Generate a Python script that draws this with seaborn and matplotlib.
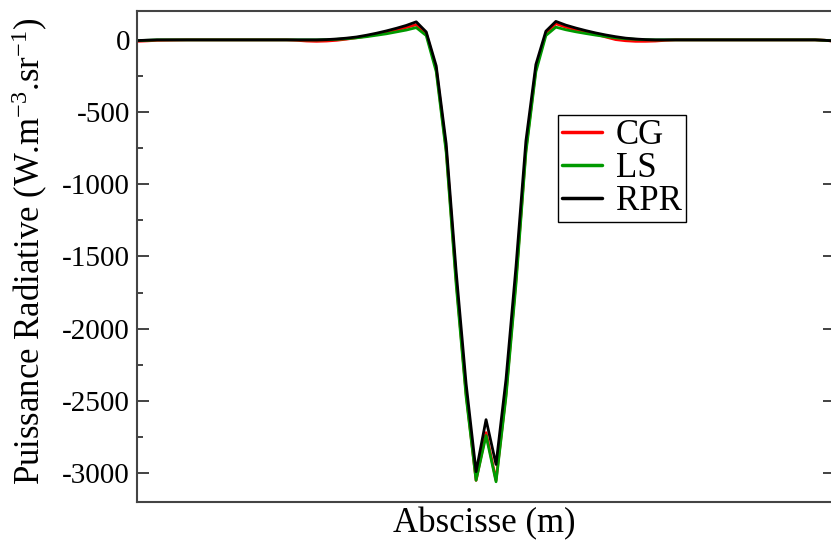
import numpy as np
import pandas as pd
import matplotlib
matplotlib.use('Agg')
import matplotlib.pyplot as plt
from matplotlib.ticker import MultipleLocator
import seaborn as sns

# abscissa (arbitrary units, no tick labels on the original), centre of the W at 50
abscisse = [0.0, 1.43, 2.86, 7.14, 14.29, 21.43, 22.86, 24.29, 25.71, 27.14,
            28.57, 30.0, 31.43, 32.86, 34.29, 35.71, 37.14, 38.57, 40.0, 41.43,
            42.86, 44.29, 45.71, 47.14, 48.57, 50.0,
            51.43, 52.86, 54.29, 55.71, 57.14, 58.57, 60.0, 61.43, 62.86, 64.29,
            65.71, 67.14, 68.57, 70.0, 71.43, 72.86, 74.29, 75.71, 77.14, 78.57,
            85.71, 92.86, 97.14, 98.57, 100.0]

cg = [-10, -7, -3, 0, 0, 0, -3, -8, -10, -8,
      -3, 5, 15, 26, 38, 52, 67, 86, 105, 45,
      -200, -760, -1660, -2450, -3050, -2720,
      -3050, -2450, -1660, -760, -200, 45, 112, 88, 70, 54,
      40, 20, 2, -6, -10, -10, -8, -3, 0, 0,
      0, 0, 0, -3, -10]

ls = [-5, -3, 0, 0, 0, 0, 0, 0, 0, 1,
      4, 8, 14, 22, 32, 42, 55, 68, 85, 30,
      -220, -780, -1690, -2470, -3050, -2740,
      -3060, -2470, -1690, -780, -220, 30, 88, 70, 56, 44,
      33, 23, 14, 8, 4, 1, 0, 0, 0, 0,
      0, 0, 0, -3, -8]

rpr = [-5, -2, 0, 0, 0, 0, 0, 0, 0, 2,
       6, 12, 20, 32, 46, 62, 80, 100, 125, 55,
       -180, -720, -1600, -2380, -2990, -2630,
       -2940, -2350, -1570, -700, -170, 60, 128, 102, 82, 64,
       48, 34, 22, 12, 6, 2, 0, 0, 0, 0,
       0, 0, 0, -3, -8]

methodes = ['CG', 'LS', 'RPR']
couleurs = {'CG': '#ff0000', 'LS': '#009a00', 'RPR': '#000000'}

n = len(abscisse)
df = pd.DataFrame({
    'x': abscisse * 3,
    'y': cg + ls + rpr,
    'methode': ['CG'] * n + ['LS'] * n + ['RPR'] * n,
})

sns.set_theme(style='white')
plt.rcParams['font.family'] = ['Liberation Serif', 'DejaVu Serif']
plt.rcParams['mathtext.fontset'] = 'custom'
plt.rcParams['mathtext.rm'] = 'Liberation Serif'
plt.rcParams['mathtext.it'] = 'Liberation Serif:italic'
plt.rcParams['axes.unicode_minus'] = False
plt.rcParams['text.color'] = 'black'
plt.rcParams['axes.labelcolor'] = 'black'
plt.rcParams['ytick.color'] = 'black'
plt.rcParams['xtick.color'] = 'black'

fig = plt.figure(figsize=(8.31, 5.47), dpi=100)
ax = fig.add_axes([0.1649, 0.0823, 0.8400, 0.8976])

sns.lineplot(data=df, x='x', y='y', hue='methode', hue_order=methodes,
             palette=couleurs, linewidth=2, estimator=None, sort=False, ax=ax)

ax.set_xlim(0, 100)
ax.set_ylim(-3200, 200)
ax.set_xticks([])
ax.yaxis.set_major_locator(MultipleLocator(500))
ax.yaxis.set_minor_locator(MultipleLocator(250))
ax.tick_params(axis='y', which='major', direction='in', length=8.5, width=1.2,
               color='#222222', labelcolor='black', labelsize=21,
               left=True, right=True, pad=5)
ax.tick_params(axis='y', which='minor', direction='in', length=4.3, width=1.2,
               color='#222222', left=True, right=False)

for s in ax.spines.values():
    s.set_color('#444444')
    s.set_linewidth(1.5)

ax.set_xlabel('Abscisse (m)', fontsize=25, color='black')
ax.set_ylabel('Puissance Radiative (W.m$^{-3}$.sr$^{-1}$)', fontsize=25,
              color='black')
ax.xaxis.set_label_coords(0.497, -0.010)
ax.yaxis.set_label_coords(-0.125, 0.510)

sns.move_legend(ax, 'upper left', bbox_to_anchor=(0.603, 0.788), title=None,
                frameon=True, fancybox=False, edgecolor='black', framealpha=1,
                fontsize=25, handlelength=1.15, handletextpad=0.4,
                borderpad=0.12, labelspacing=0.0, borderaxespad=0)
leg = ax.get_legend()
leg.get_frame().set_linewidth(1.0)
for t in leg.get_texts():
    t.set_color('black')
for h in leg.get_lines():
    h.set_linewidth(2.5)

fig.savefig('out.png', dpi=100)
